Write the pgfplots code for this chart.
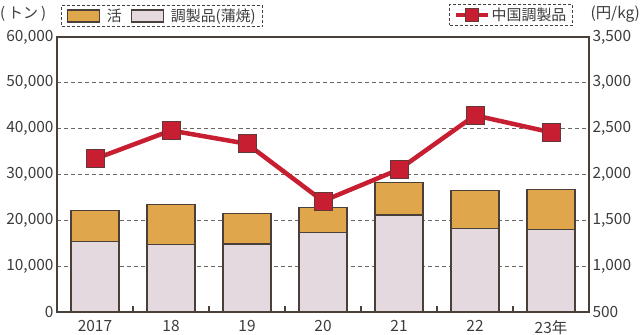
\documentclass[border=0pt]{standalone}
\usepackage{pgfplots}
\pgfplotsset{compat=1.18}
\usepackage{fontspec}
\setmainfont{Noto Sans CJK JP}
\definecolor{ikatsu}{HTML}{E0A64B}
\definecolor{chosei}{HTML}{E4D9DF}
\definecolor{frame}{HTML}{4A403A}
\definecolor{redl}{HTML}{C81E32}
\definecolor{txt}{HTML}{3C3C3C}
\begin{document}
\begin{tikzpicture}
\useasboundingbox (0,0) rectangle (640bp,335bp);
\pgfplotsset{
  common/.style={width=532bp,height=275bp,scale only axis,
    at={(57bp,23bp)},anchor=south west,
    xmin=-0.5,xmax=6.5,
    tick label style={font=\fontsize{15.5}{15.5}\selectfont,text=txt},
    /pgf/number format/assume math mode=true,
    /pgf/number format/1000 sep={,},
    scaled y ticks=false,
    axis line style={frame,line width=1.5bp},
    major tick length=0pt,
    legend cell align=left,
  }
}
\begin{axis}[common,
  ymin=0,ymax=60000,ytick={0,10000,...,60000},
  ymajorgrids,
  grid style={draw=frame!80,line width=0.7bp,dash pattern=on 4bp off 3bp},
  xtick={0,...,6},xticklabels={2017,18,19,20,21,22,23年},
  xticklabel style={yshift=-5bp},
  minor xtick={0.5,1.5,...,5.5},
  minor tick length=6bp,
  minor tick style={frame,line width=1.2bp},
  tick align=inside,
  xtick pos=left,ytick pos=left,
  ybar stacked,bar width=48bp,
  legend columns=2,
  legend image code/.code={\draw[#1] (0bp,-6bp) rectangle (32bp,6bp);},
  legend style={at={(0.0075,1.036)},anchor=south west,
    draw=frame,dash pattern=on 3bp off 2bp,line width=1.2bp,fill=none,
    inner xsep=5bp,inner ysep=1.5bp,
    font=\fontsize{15}{15}\selectfont,text=txt,
    /tikz/every odd column/.append style={column sep=5bp},
    /tikz/every even column/.append style={column sep=7bp}},
]
\addlegendimage{fill=ikatsu,draw=frame,line width=1.2bp,solid}
\addlegendentry{活}
\addlegendimage{fill=chosei,draw=frame,line width=1.2bp,solid}
\addlegendentry{調製品(蒲焼)}
\addplot[fill=chosei,draw=frame,line width=1.2bp] coordinates
  {(0,15340) (1,14690) (2,14840) (3,17300) (4,21160) (5,18260) (6,17960)};
\addplot[fill=ikatsu,draw=frame,line width=1.2bp] coordinates
  {(0,6850) (1,8810) (2,6700) (3,5460) (4,7140) (5,8210) (6,8810)};
\end{axis}
\begin{axis}[common,
  ymin=500,ymax=3500,ytick={500,1000,...,3500},
  axis y line*=right,hide x axis,
  legend image code/.code={\draw[#1,line width=4bp,mark size=6.5bp,mark repeat=2,mark phase=2] plot coordinates {(0bp,0bp) (16bp,0bp) (32bp,0bp)};},
  legend style={at={(0.737,1.04)},anchor=south west,
    draw=frame,dash pattern=on 3bp off 2bp,line width=1.2bp,fill=none,
    inner xsep=4bp,inner ysep=1.5bp,
    font=\fontsize{15}{15}\selectfont,text=txt},
]
\addplot[redl,line width=4.5bp,solid,mark=square*,mark size=9bp,
  mark options={fill=redl,draw=frame!80!redl,line width=1bp,solid}] coordinates
  {(0,2170) (1,2480) (2,2335) (3,1710) (4,2055) (5,2645) (6,2460)};
\addlegendentry{中国調製品}
\end{axis}
\node[anchor=west,text=txt,font=\fontsize{15}{15}\selectfont,inner sep=0pt] at (0bp,321bp) {(\hspace{3bp}トン\hspace{3bp})};
\node[anchor=east,text=txt,font=\fontsize{15.5}{15.5}\selectfont,inner sep=0pt] at (640bp,321bp) {(円/kg)};
\end{tikzpicture}
\end{document}
